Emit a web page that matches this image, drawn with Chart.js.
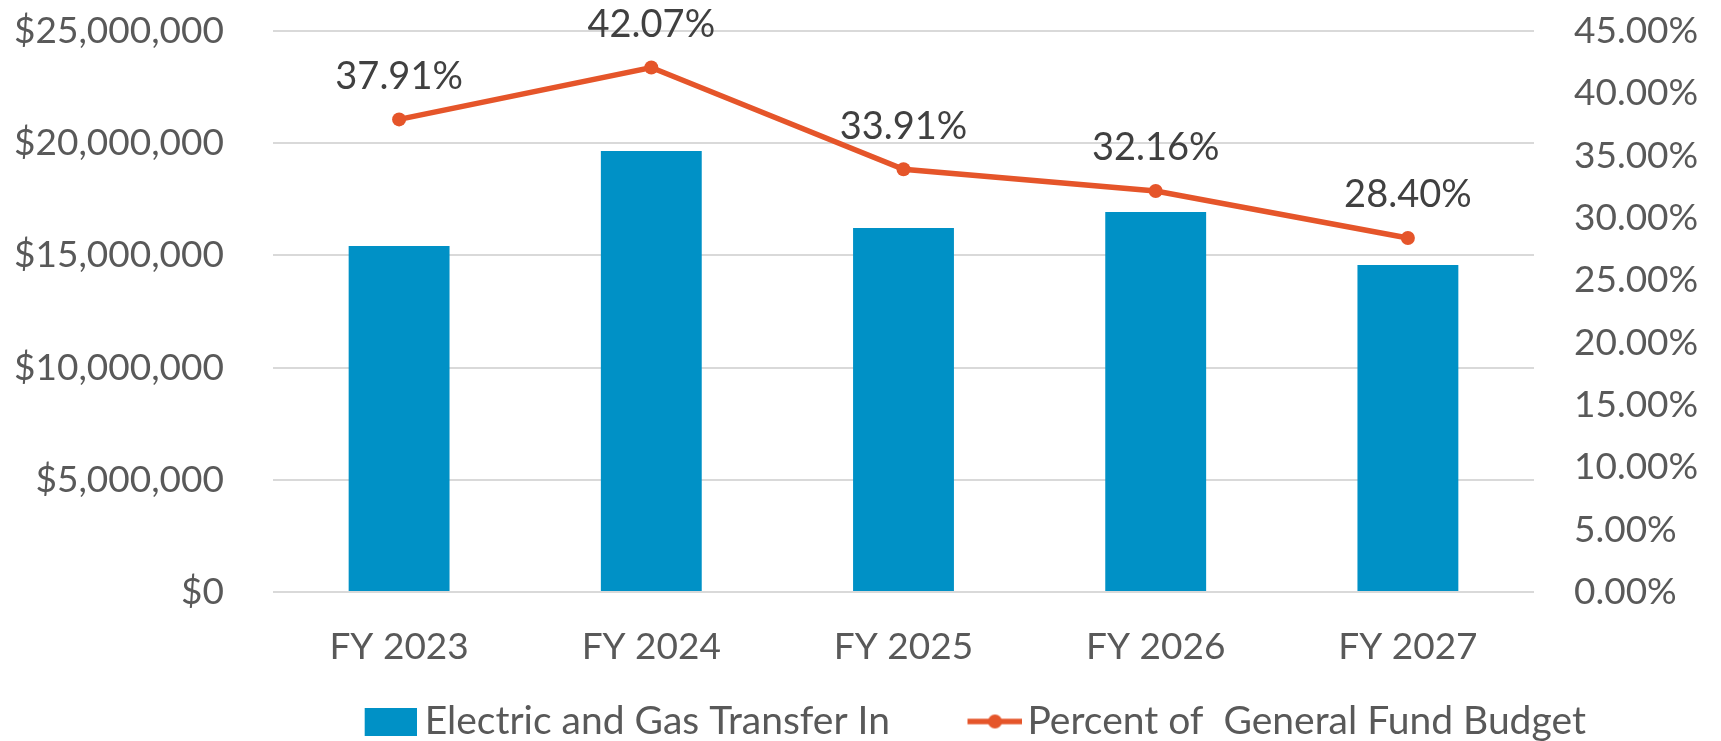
<!DOCTYPE html>
<html>
<head>
<meta charset="utf-8">
<script src="https://cdn.jsdelivr.net/npm/chart.js@4.4.1/dist/chart.umd.min.js"></script>
<style>
    html, body { margin: 0; padding: 0; background: #fff; }
</style>
</head>
<body>
<canvas id="chart" width="1721" height="741"></canvas>
<script>
// Data ---------------------------------------------------------------
const years = ['FY 2023', 'FY 2024', 'FY 2025', 'FY 2026', 'FY 2027'];
const transferIn = [15420000, 19650000, 16220000, 16930000, 14570000];
const percentOfBudget = [37.91, 42.07, 33.91, 32.16, 28.40];
const dollarTicks = [0, 5000000, 10000000, 15000000, 20000000, 25000000];
const percentTicks = [0, 5, 10, 15, 20, 25, 30, 35, 40, 45];

// Styles -------------------------------------------------------------
const FONT = 'Lato, "Liberation Sans", sans-serif';
const BLUE = '#0091C6';
const ORANGE = '#E5552A';
const TICK_COLOR = '#595959';
const MARKER_W = 108;
// negative right padding pushes the legend row to the right like the original
const RIGHT_PAD = -162;

// Legend markers drawn on small canvases---------------------------------
function makeMarker(kind) {
    const c = document.createElement('canvas');
    const g = c.getContext('2d');
    if (kind === 'bar') {
        c.width = MARKER_W + 23;
        c.height = 28;
        g.fillStyle = BLUE;
        g.fillRect(c.width - 52, 0, 52, 28);
    } else {
        c.width = MARKER_W + 29;
        c.height = 18;
        g.strokeStyle = ORANGE;
        g.lineWidth = 5.5;
        g.beginPath();
        g.moveTo(c.width - 55, 9);
        g.lineTo(c.width, 9);
        g.stroke();
        g.fillStyle = ORANGE;
        g.beginPath();
        g.arc(c.width - 27.5, 9, 7, 0, Math.PI * 2);
        g.fill();
    }
    return c;
}
const markers = [makeMarker('bar'), makeMarker('line')];

// Labels above the line points------------------------------------------
const pointLabels = {
    id: 'pointLabels',
    afterDatasetsDraw(chart) {
        const ctx = chart.ctx;
        const meta = chart.getDatasetMeta(1);
        ctx.save();
        ctx.font = '38px ' + FONT;
        ctx.fillStyle = '#404040';
        ctx.textAlign = 'center';
        ctx.textBaseline = 'middle';
        meta.data.forEach((pt, i) => {
            ctx.fillText(percentOfBudget[i].toFixed(2) + '%', pt.x, pt.y - 43);
        });
        ctx.restore();
    }
};

function fixY(width) {
    return s => {
        s.width = width;
        s.paddingTop = 0;
        s.paddingBottom = 0;
    };
}

const ctx = document.getElementById('chart').getContext('2d');
new Chart(ctx, {
    type: 'bar',
    data: {
        labels: years,
        datasets: [{
            type: 'bar',
            label: 'Electric and Gas Transfer In',
            data: transferIn,
            backgroundColor: BLUE,
            barPercentage: 0.4,
            categoryPercentage: 1,
            yAxisID: 'y',
            order: 1
        }, {
            type: 'line',
            label: 'Percent of  General Fund Budget',
            data: percentOfBudget,
            borderColor: ORANGE,
            backgroundColor: ORANGE,
            borderWidth: 5.5,
            pointRadius: 7,
            pointBackgroundColor: ORANGE,
            pointBorderWidth: 0,
            yAxisID: 'y1',
            order: 0
        }]
    },
    options: {
        responsive: false,
        animation: false,
        layout: {
            padding: { left: 0, right: RIGHT_PAD, top: 31, bottom: -10 }
        },
        scales: {
            x: {
                grid: { display: false, drawTicks: false },
                border: { display: false },
                ticks: {
                    color: TICK_COLOR,
                    padding: 33,
                    font: { size: 37, family: FONT }
                },
                afterFit: s => { s.height = 100; }
            },
            y: {
                position: 'left',
                min: dollarTicks[0],
                max: dollarTicks[dollarTicks.length - 1],
                grid: { color: '#D9D9D9', lineWidth: 2, drawTicks: false },
                border: { display: false },
                ticks: {
                    stepSize: dollarTicks[1] - dollarTicks[0],
                    color: TICK_COLOR,
                    padding: 49,
                    font: { size: 37, family: FONT },
                    callback: v => '$' + v.toLocaleString('en-US')
                },
                afterFit: fixY(273)
            },
            y1: {
                position: 'right',
                min: percentTicks[0],
                max: percentTicks[percentTicks.length - 1],
                grid: { display: false, drawTicks: false },
                border: { display: false },
                ticks: {
                    stepSize: percentTicks[1] - percentTicks[0],
                    color: TICK_COLOR,
                    padding: 40,
                    font: { size: 37, family: FONT },
                    callback: v => v.toFixed(2) + '%'
                },
                afterFit: fixY(187 - RIGHT_PAD)
            }
        },
        plugins: {
            legend: {
                position: 'bottom',
                labels: {
                    usePointStyle: true,
                    pointStyleWidth: MARKER_W,
                    padding: 10,
                    color: TICK_COLOR,
                    font: { size: 39, family: FONT },
                    generateLabels: chart => chart.data.datasets.map((ds, i) => ({
                        text: ds.label,
                        pointStyle: markers[i],
                        fillStyle: ds.backgroundColor,
                        strokeStyle: ds.borderColor,
                        lineWidth: 0,
                        fontColor: TICK_COLOR,
                        hidden: false,
                        datasetIndex: i
                    }))
                }
            },
            tooltip: { enabled: false }
        }
    },
    plugins: [pointLabels]
});
</script>
</body>
</html>
